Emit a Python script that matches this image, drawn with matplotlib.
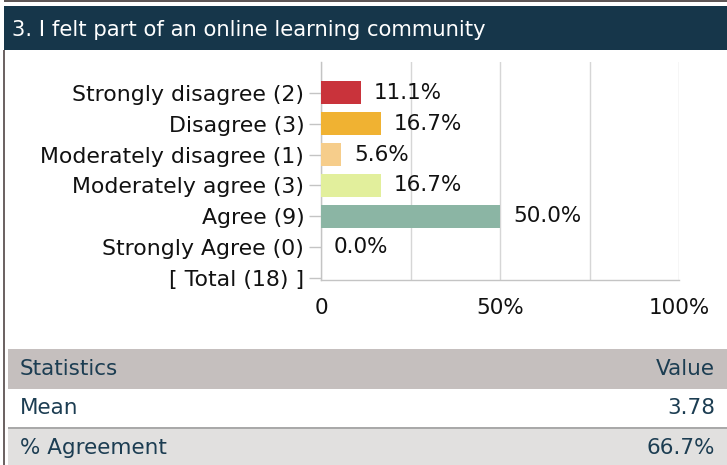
import matplotlib
matplotlib.use("Agg")
import matplotlib.pyplot as plt
from matplotlib.patches import Rectangle
from matplotlib.ticker import FixedLocator

plt.rcParams.update({"font.family": "DejaVu Sans"})

# ---- data ----
title = "3. I felt part of an online learning community"
categories = ["Strongly disagree (2)", "Disagree (3)", "Moderately disagree (1)",
              "Moderately agree (3)", "Agree (9)", "Strongly Agree (0)", "[ Total (18) ]"]
percents = [11.1, 16.7, 5.6, 16.7, 50.0, 0.0]
bar_colors = ["#c9333b", "#f0b232", "#f6cd8b", "#e2ef9c", "#8bb5a4", "#8bb5a4"]
xticks = [0, 50, 100]
xtick_labels = ["0", "50%", "100%"]
stat_header = ("Statistics", "Value")
stat_rows = [("Mean", "3.78"), ("% Agreement", "66.7%")]

W, H = 727, 465
fig = plt.figure(figsize=(W / 100, H / 100), dpi=100)


def box(x0, y0, x1, y1, color, z=0):
    # rectangle in pixel coords (y measured from the top)
    fig.patches.append(Rectangle((x0 / W, 1 - y1 / H), (x1 - x0) / W, (y1 - y0) / H,
                                 transform=fig.transFigure, facecolor=color,
                                 edgecolor="none", zorder=z))


def ftext(x, y, s, **kw):
    fig.text(x / W, 1 - y / H, s, **kw)


# frame + header band
box(4, 0, 727, 2, "#5e5656")
box(3, 50, 5, 465, "#6d6464")
box(4, 6, 727, 50, "#16364a")
ftext(12, 30, title, color="white", fontsize=15.2, va="center", ha="left")

# ---- bar chart ----
ax = fig.add_axes([321 / W, 1 - 280 / H, (679 - 321) / W, (280 - 62) / H])
ypos = list(range(len(categories)))
ax.barh(ypos[:len(percents)], percents, height=0.75, color=bar_colors, zorder=3)
for y, p in zip(ypos, percents):
    ax.annotate(f"{p:.1f}%", (p, y), xytext=(13, 0), textcoords="offset pixels",
                va="center", ha="left", fontsize=15.5, color="#111111", zorder=4)
ax.set_xlim(0, 100)
ax.set_ylim(6.07, -1.0)
ax.set_yticks(ypos)
ax.set_yticklabels(categories, fontsize=15.8, color="#111111")
ax.set_xticks(xticks)
ax.set_xticklabels(xtick_labels, fontsize=15.5, color="#111111")
ax.xaxis.set_minor_locator(FixedLocator([25, 75]))
ax.grid(axis="x", which="both", color="#d6d6d6", lw=1, zorder=0)
ax.tick_params(axis="y", length=9, width=1, color="#c4c4c4", pad=3)
ax.tick_params(axis="x", which="both", length=0, pad=13)
for s in ["top", "right"]:
    ax.spines[s].set_visible(False)
for s in ["left", "bottom"]:
    ax.spines[s].set_color("#c4c4c4")
    ax.spines[s].set_linewidth(1)

# ---- statistics table ----
navy = "#1c3d52"
box(8, 349, 727, 389, "#c5bfbe")
box(8, 389, 727, 427, "white")
box(8, 427, 727, 429, "#a9a9a9")
box(8, 429, 727, 465, "#e1e0df")
ftext(20, 369, stat_header[0], color=navy, fontsize=15.5, va="center", ha="left")
ftext(715, 369, stat_header[1], color=navy, fontsize=15.5, va="center", ha="right")
for (name, val), yc in zip(stat_rows, [408, 448]):
    ftext(20, yc, name, color=navy, fontsize=15.5, va="center", ha="left")
    ftext(715, yc, val, color=navy, fontsize=15.5, va="center", ha="right")

fig.savefig("out.png", dpi=100)
